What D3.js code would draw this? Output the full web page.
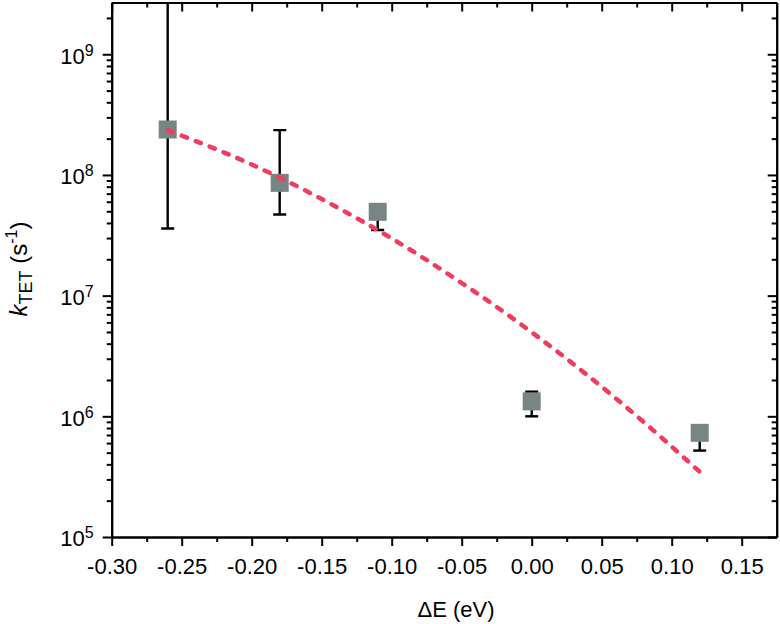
<!DOCTYPE html>
<html>
<head>
<meta charset="utf-8">
<script src="https://cdn.jsdelivr.net/npm/d3@7"></script>
<style>
  body { margin: 0; background: #fff; }
  svg { display: block; font-family: 'Liberation Sans', Arial, sans-serif; }
  .axis path, .axis line { stroke: #000; stroke-width: 2; }
  .axis text { font-size: 22px; fill: #000; font-family: 'Liberation Sans', Arial, sans-serif; }
</style>
</head>
<body>
<svg width="780" height="624"></svg>
<script>
'use strict';

// measured points
const deltaE = [-0.26, -0.18, -0.11, 0.00, 0.12];
const kTET = [2.38e8, 8.6e7, 4.95e7, 1.33e6, 7.3e5];
const errLow = [3.6e7, 4.7e7, 3.5e7, 1.0e6, 5.2e5];
const errHigh = [4.0e9, 2.35e8, 5.6e7, 1.6e6, 8.4e5];

// fit curve
const fitE = [-0.26, -0.22, -0.18, -0.14, -0.10, -0.06, -0.02, 0.02, 0.06, 0.09, 0.12];
const fitK = [2.34e8, 1.54e8, 9.5e7, 5.47e7, 2.98e7, 1.52e7, 7.33e6, 3.32e6, 1.41e6, 7.1e5, 3.47e5];

const xTicks = [-0.30, -0.25, -0.20, -0.15, -0.10, -0.05, 0.00, 0.05, 0.10, 0.15];
const xTickLabels = ['-0.30', '-0.25', '-0.20', '-0.15', '-0.10', '-0.05', '0.00', '0.05', '0.10', '0.15'];
const xMinor = [-0.275, -0.225, -0.175, -0.125, -0.075, -0.025, 0.025, 0.075, 0.125];
const yDecades = [5, 6, 7, 8, 9];

const svg = d3.select('svg');
const plotLeft = 111.7, plotRight = 776.7, plotTop = 2.5, plotBottom = 537;

const x = d3.scaleLinear().domain([-0.30, 0.175]).range([plotLeft, plotRight]);
const y = d3.scaleLog().domain([1e5, Math.pow(10, 9.429)]).range([plotBottom, plotTop]);

const yMajor = yDecades.map(e => Math.pow(10, e));
const yMinor = [];
for (const e of yDecades) {
  for (let m = 2; m <= 9; m++) {
    const v = m * Math.pow(10, e);
    if (v < y.domain()[1]) yMinor.push(v);
  }
}

svg.append('defs').append('clipPath')
  .attr('id', 'plot')
  .append('rect')
    .attr('x', plotLeft)
    .attr('y', plotTop)
    .attr('width', plotRight - plotLeft)
    .attr('height', plotBottom - plotTop);

// axes
svg.append('g')
  .attr('class', 'axis')
  .attr('transform', `translate(0,${plotBottom})`)
  .call(d3.axisBottom(x).tickValues(xMinor).tickSize(5).tickSizeOuter(0).tickFormat(''));
svg.append('g')
  .attr('class', 'axis')
  .attr('transform', `translate(0,${plotBottom})`)
  .call(d3.axisBottom(x).tickValues(xTicks).tickSize(9).tickSizeOuter(0).tickPadding(12)
    .tickFormat((d, i) => xTickLabels[i]));

svg.append('g')
  .attr('class', 'axis')
  .attr('transform', `translate(0,${plotTop})`)
  .call(d3.axisTop(x).tickValues(xMinor).tickSize(-5).tickSizeOuter(0).tickFormat(''));
svg.append('g')
  .attr('class', 'axis')
  .attr('transform', `translate(0,${plotTop})`)
  .call(d3.axisTop(x).tickValues(xTicks).tickSize(-9).tickSizeOuter(0).tickFormat(''));

svg.append('g')
  .attr('class', 'axis')
  .attr('transform', `translate(${plotLeft},0)`)
  .call(d3.axisLeft(y).tickValues(yMinor).tickSize(5).tickSizeOuter(0).tickFormat(''));
const yAxis = svg.append('g')
  .attr('class', 'axis')
  .attr('transform', `translate(${plotLeft},0)`)
  .call(d3.axisLeft(y).tickValues(yMajor).tickSize(9).tickSizeOuter(0).tickPadding(9).tickFormat(''));
yAxis.selectAll('.tick text')
  .attr('dy', '0.4em')
  .each(function (d, i) {
    const t = d3.select(this);
    t.append('tspan').text('10');
    t.append('tspan').attr('dy', -8).attr('font-size', 16).text(yDecades[i]);
  });

svg.append('g')
  .attr('class', 'axis')
  .attr('transform', `translate(${plotRight},0)`)
  .call(d3.axisRight(y).tickValues(yMinor).tickSize(-5).tickSizeOuter(0).tickFormat(''));
svg.append('g')
  .attr('class', 'axis')
  .attr('transform', `translate(${plotRight},0)`)
  .call(d3.axisRight(y).tickValues(yMajor).tickSize(-9).tickSizeOuter(0).tickFormat(''));

// data
const points = deltaE.map((e, i) => ({ e: e, k: kTET[i], lo: errLow[i], hi: errHigh[i] }));
const plot = svg.append('g').attr('clip-path', 'url(#plot)');

const bars = plot.append('g')
  .selectAll('g')
  .data(points)
  .enter().append('g')
    .attr('stroke', '#000')
    .attr('stroke-width', 2.4);
bars.append('line')
  .attr('x1', d => x(d.e))
  .attr('x2', d => x(d.e))
  .attr('y1', d => y(d.lo))
  .attr('y2', d => y(d.hi));
bars.append('line')
  .attr('x1', d => x(d.e) - 6.5)
  .attr('x2', d => x(d.e) + 6.5)
  .attr('y1', d => y(d.lo))
  .attr('y2', d => y(d.lo));
bars.append('line')
  .attr('x1', d => x(d.e) - 6.5)
  .attr('x2', d => x(d.e) + 6.5)
  .attr('y1', d => y(d.hi))
  .attr('y2', d => y(d.hi));

plot.append('g')
  .selectAll('rect')
  .data(points)
  .enter().append('rect')
    .attr('x', d => x(d.e) - 9)
    .attr('y', d => y(d.k) - 9)
    .attr('width', 18)
    .attr('height', 18)
    .attr('fill', '#778585');

const fit = fitE.map((e, i) => [e, fitK[i]]);
plot.append('path')
  .datum(fit)
  .attr('fill', 'none')
  .attr('stroke', '#ef3d5d')
  .attr('stroke-width', 4.5)
  .attr('stroke-linecap', 'round')
  .attr('stroke-dasharray', '5.5,9.5')
  .attr('d', d3.line().x(d => x(d[0])).y(d => y(d[1])).curve(d3.curveMonotoneX));

// titles
svg.append('text')
  .attr('x', 456)
  .attr('y', 617)
  .attr('text-anchor', 'middle')
  .attr('font-size', 22)
  .text('\u0394E (eV)');

const yTitle = svg.append('text')
  .attr('transform', 'translate(27,269) rotate(-90)')
  .attr('text-anchor', 'middle')
  .attr('font-size', 24);
yTitle.append('tspan').attr('font-style', 'italic').text('k');
yTitle.append('tspan').attr('font-size', 18).attr('dy', 5).text('TET');
yTitle.append('tspan').attr('dy', -5).text(' (s');
yTitle.append('tspan').attr('font-size', 16).attr('dy', -10).text('-1');
yTitle.append('tspan').attr('dy', 10).text(')');
</script>
</body>
</html>
